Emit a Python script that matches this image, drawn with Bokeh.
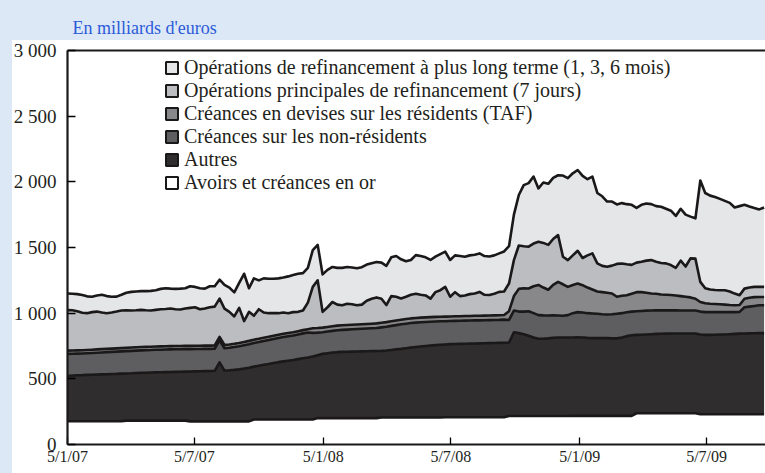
import pandas as pd
from bokeh.plotting import figure
from bokeh.models import (ColumnDataSource, Range1d, FixedTicker, LinearAxis,
                          Legend, LegendItem)
from bokeh.embed import file_html
from bokeh.resources import INLINE

# ---------------- data : weekly statements (bn EUR), first week 5/1/07 ----------------
first_week = "2007-01-05"

or_ = [177, 177, 177, 177, 177, 177, 177, 177, 177, 177,
       177, 177, 182, 182, 182, 182, 182, 182, 182, 182,
       182, 182, 182, 182, 182, 176, 176, 176, 176, 176,
       176, 176, 176, 176, 176, 176, 176, 176, 190, 190,
       190, 190, 190, 190, 190, 190, 190, 190, 190, 190,
       190, 201, 201, 201, 201, 201, 201, 201, 201, 201,
       201, 201, 201, 201, 206, 206, 206, 206, 206, 206,
       206, 206, 206, 206, 206, 206, 206, 207, 207, 207,
       207, 207, 207, 207, 207, 207, 207, 207, 207, 207,
       217, 217, 217, 217, 217, 217, 217, 217, 217, 217,
       217, 217, 217, 218, 218, 218, 218, 218, 218, 218,
       218, 218, 218, 218, 218, 218, 238, 238, 238, 238,
       238, 238, 238, 238, 238, 238, 238, 238, 238, 230,
       230, 230, 230, 230, 230, 230, 230, 230, 230, 230,
       230, 230, 230]

autres = [347, 348, 350, 351, 353, 354, 356, 357, 358, 360,
          361, 363, 359, 360, 362, 363, 364, 366, 367, 368,
          369, 370, 371, 372, 373, 380, 381, 382, 383, 384,
          385, 449, 387, 389, 392, 396, 402, 409, 403, 410,
          417, 423, 430, 437, 443, 448, 453, 460, 467, 473,
          480, 479, 489, 494, 499, 502, 504, 505, 506, 507,
          508, 509, 510, 511, 507, 510, 514, 518, 522, 527,
          532, 536, 540, 544, 548, 551, 554, 555, 557, 558,
          559, 560, 561, 562, 563, 564, 565, 566, 567, 568,
          559, 638, 631, 623, 611, 598, 588, 588, 591, 595,
          598, 598, 598, 597, 599, 597, 594, 592, 592, 592,
          592, 590, 590, 597, 607, 614, 597, 598, 600, 602,
          604, 605, 606, 607, 607, 607, 607, 607, 607, 608,
          605, 605, 606, 607, 608, 610, 612, 614, 615, 616,
          617, 618, 618]

non_residents = [166, 166, 165, 165, 165, 166, 166, 167, 168, 168,
                 169, 169, 170, 171, 171, 172, 172, 171, 172, 172,
                 172, 172, 172, 171, 171, 170, 170, 169, 169, 168,
                 168, 169, 170, 172, 174, 176, 178, 179, 180, 180,
                 181, 182, 183, 184, 185, 186, 187, 188, 189, 190,
                 180, 172, 165, 165, 165, 167, 168, 169, 170, 171,
                 172, 173, 174, 175, 179, 181, 183, 185, 187, 187,
                 187, 186, 185, 183, 181, 180, 178, 177, 176, 176,
                 176, 176, 176, 176, 175, 175, 175, 175, 175, 176,
                 172, 165, 164, 172, 187, 185, 180, 178, 174, 171,
                 167, 165, 170, 185, 191, 190, 188, 188, 185, 182,
                 180, 184, 188, 185, 182, 180, 180, 181, 181, 180,
                 179, 178, 177, 176, 176, 175, 175, 175, 175, 174,
                 173, 173, 172, 171, 170, 168, 166, 166, 200, 204,
                 208, 212, 212]

taf = [25, 25, 25, 25, 25, 25, 25, 25, 25, 25,
       25, 25, 25, 25, 25, 25, 25, 25, 25, 25,
       25, 25, 25, 25, 25, 25, 25, 25, 25, 25,
       25, 25, 25, 25, 25, 25, 25, 25, 25, 25,
       25, 25, 25, 25, 25, 25, 25, 25, 25, 25,
       35, 35, 35, 35, 35, 35, 35, 35, 35, 35,
       35, 35, 35, 35, 35, 35, 35, 35, 35, 35,
       35, 35, 35, 35, 35, 35, 35, 35, 35, 35,
       35, 35, 35, 35, 35, 35, 35, 35, 35, 35,
       67, 110, 173, 178, 173, 205, 230, 212, 196, 232,
       256, 240, 215, 215, 218, 208, 195, 182, 170, 168,
       165, 158, 129, 132, 129, 136, 145, 143, 136, 130,
       127, 121, 119, 117, 114, 110, 105, 100, 90, 73,
       67, 64, 62, 60, 57, 54, 52, 52, 65, 68,
       67, 63, 63]

mro = [308, 306, 298, 285, 280, 286, 288, 279, 272, 275,
       280, 286, 286, 282, 282, 283, 279, 276, 279, 283,
       284, 286, 280, 278, 284, 289, 293, 278, 282, 292,
       296, 292, 277, 248, 208, 267, 159, 221, 182, 225,
       192, 180, 172, 164, 162, 151, 153, 147, 149, 202,
       315, 363, 120, 150, 185, 160, 152, 162, 156, 146,
       149, 177, 190, 198, 183, 130, 192, 181, 162, 170,
       180, 185, 174, 167, 141, 188, 202, 226, 150, 184,
       153, 157, 166, 170, 182, 159, 156, 165, 178, 179,
       211, 274, 330, 320, 318, 325, 329, 340, 342, 350,
       357, 210, 204, 225, 249, 207, 245, 275, 214, 200,
       198, 212, 250, 246, 236, 220, 225, 232, 245, 254,
       244, 240, 239, 228, 210, 270, 230, 297, 305, 153,
       115, 108, 106, 106, 109, 103, 89, 74, 77, 77,
       78, 77, 77]

ltro = [127, 126, 130, 135, 128, 117, 123, 135, 130, 120,
        114, 120, 133, 142, 143, 143, 146, 150, 150, 155,
        158, 152, 155, 159, 155, 165, 155, 160, 152, 160,
        155, 144, 180, 185, 183, 190, 360, 180, 285, 220,
        260, 262, 262, 265, 267, 280, 282, 290, 285, 265,
        280, 270, 285, 285, 267, 280, 285, 280, 280, 282,
        285, 275, 270, 270, 275, 298, 295, 310, 298, 270,
        265, 294, 295, 290, 294, 270, 275, 268, 280, 280,
        305, 295, 295, 295, 293, 295, 294, 292, 293, 305,
        284, 346, 385, 465, 484, 510, 406, 460, 465, 465,
        455, 618, 624, 625, 615, 625, 580, 585, 536, 530,
        497, 488, 453, 460, 458, 457, 417, 433, 435, 426,
        423, 428, 416, 414, 395, 395, 395, 318, 307, 772,
        725, 715, 709, 696, 681, 675, 656, 679, 638, 617,
        600, 590, 605]

series_keys = ["or_", "autres", "non_residents", "taf", "mro", "ltro"]  # bottom -> top
series_labels = ["Avoirs et créances en or",
                 "Autres",
                 "Créances sur les non-résidents",
                 "Créances en devises sur les résidents (TAF)",
                 "Opérations principales de refinancement (7 jours)",
                 "Opérations de refinancement à plus long terme (1, 3, 6 mois)"]
series_colors = ["#ffffff", "#2f2d2e", "#5e5e60", "#88888a", "#bcbdc0", "#e5e6e8"]

x_tick_dates = ["2007-01-05", "2007-07-05", "2008-01-05", "2008-07-05", "2009-01-05", "2009-07-05"]
x_tick_labels = ["5/1/07", "5/7/07", "5/1/08", "5/7/08", "5/1/09", "5/7/09"]
y_ticks = [0, 500, 1000, 1500, 2000, 2500, 3000]
y_tick_labels = ["0", "500", "1 000", "1 500", "2 000", "2 500", "3 000"]

title_text = "En milliards d'euros"

# ---------------- build ----------------
data = dict(or_=or_, autres=autres, non_residents=non_residents, taf=taf, mro=mro, ltro=ltro)
n = len(or_)
assert all(len(v) == n for v in data.values()), [len(v) for v in data.values()]
data["date"] = pd.date_range(first_week, periods=n, freq="7D")
src = ColumnDataSource(data)

FONT = "Liberation Serif"
INK = "#231f20"
LINE = "#1a1818"
BLUE_BG = "#dde8f7"

p = figure(width=765, height=473, output_backend="svg", toolbar_location=None,
           x_axis_type="datetime",
           x_range=Range1d(pd.Timestamp("2007-01-05"), pd.Timestamp("2009-09-27")),
           y_range=Range1d(0, 3000),
           min_border_left=67, min_border_right=0, min_border_top=50, min_border_bottom=29)

p.border_fill_color = None
p.background_fill_color = "white"
p.outline_line_color = None
p.xgrid.visible = False
p.ygrid.visible = False
p.styles = {
    "background": (f"linear-gradient({BLUE_BG},{BLUE_BG}) 0 0/100% 40px no-repeat, "
                   f"linear-gradient({BLUE_BG},{BLUE_BG}) 0 0/12px 100% no-repeat, #ffffff"),
}

# title
p.title.text = title_text
p.title.align = "left"
p.title.offset = 5
p.title.text_font = FONT
p.title.text_font_size = "18px"
p.title.text_font_style = "normal"
p.title.text_color = "#2b5bd7"
p.title.standoff = 26

p.varea_stack(stackers=series_keys, x="date", color=series_colors, source=src)
p.vline_stack(stackers=series_keys, x="date", line_color=LINE, line_width=2.6,
              line_join="round", source=src)

# axes
tick_ms = [pd.Timestamp(d).value / 1e6 for d in x_tick_dates]
xa = p.xaxis[0]
xa.ticker = FixedTicker(ticks=tick_ms)
xa.major_label_overrides = {t: l for t, l in zip(tick_ms, x_tick_labels)}
xa.major_tick_in = 7
xa.major_tick_out = 0
xa.minor_tick_line_color = None
xa.major_tick_line_width = 1.3
xa.axis_line_width = 2.2
xa.axis_line_color = LINE
xa.major_label_text_font = FONT
xa.major_label_text_font_size = "16px"
xa.major_label_text_color = INK
xa.major_label_standoff = 3

ya = p.yaxis[0]
ya.ticker = FixedTicker(ticks=y_ticks)
ya.major_label_overrides = {t: l for t, l in zip(y_ticks, y_tick_labels)}
ya.major_tick_in = 8
ya.major_tick_out = 0
ya.minor_tick_line_color = None
ya.major_tick_line_width = 1.3
ya.axis_line_width = 2.2
ya.axis_line_color = LINE
ya.major_label_text_font = FONT
ya.major_label_text_font_size = "19px"
ya.major_label_text_color = INK
ya.major_label_standoff = 11

top = LinearAxis(ticker=FixedTicker(ticks=[]), major_label_text_font_size="0px",
                 major_tick_line_color=None, minor_tick_line_color=None,
                 major_tick_in=0, major_tick_out=0, minor_tick_in=0, minor_tick_out=0,
                 major_label_standoff=0, axis_label_standoff=0,
                 axis_line_width=2.2, axis_line_color=LINE)
p.add_layout(top, "above")

# legend (top -> bottom); swatches come from hidden quad renderers of each series
items = []
for key, lab, col in reversed(list(zip(series_keys, series_labels, series_colors))):
    r = p.quad(left="date", right="date", bottom=0, top=key, source=src,
               fill_color=col, line_color=LINE, line_width=2, visible=False)
    items.append(LegendItem(label=lab, renderers=[r]))

legend = Legend(items=items, location=(97, 250),
                glyph_width=15, glyph_height=15, label_standoff=5,
                label_text_font=FONT, label_text_font_size="20px", label_text_color=INK,
                label_height=20, spacing=0, padding=0, margin=0,
                border_line_color=None, background_fill_alpha=0)
p.add_layout(legend)

open("out.html", "w").write(file_html(p, INLINE))
